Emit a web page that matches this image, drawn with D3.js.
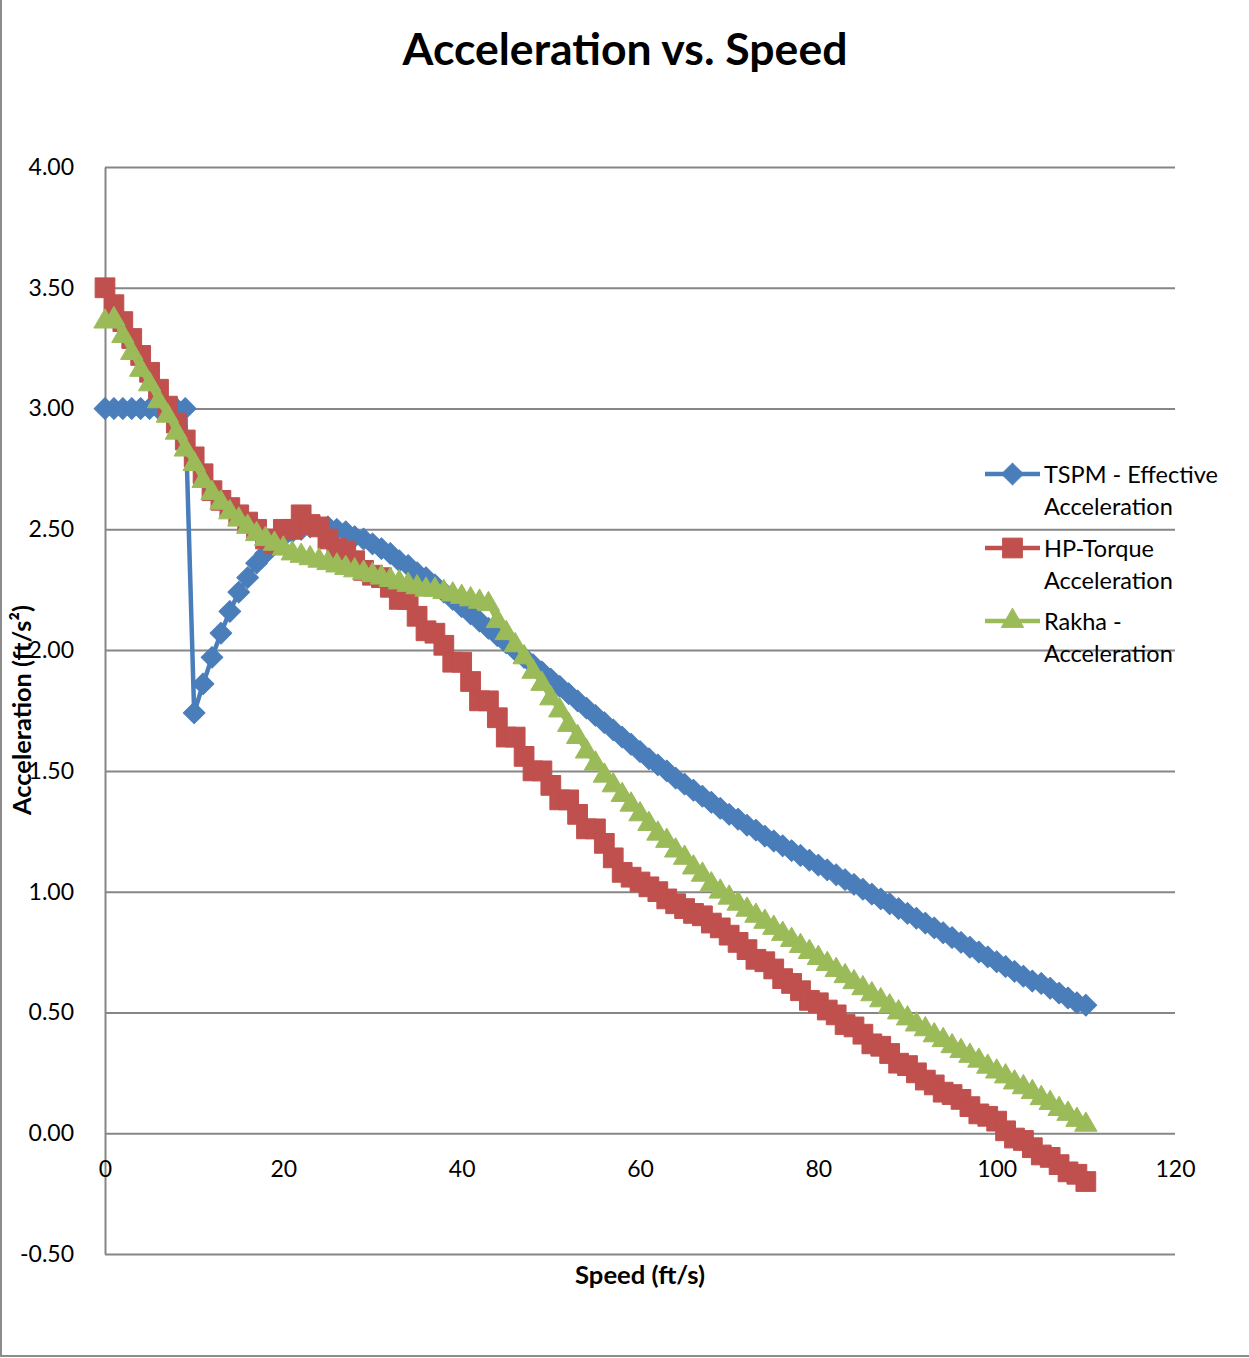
<!DOCTYPE html>
<html>
<head>
<meta charset="utf-8">
<script src="https://cdn.jsdelivr.net/npm/d3@7"></script>
<style>
  body { margin: 0; background: white; }
</style>
</head>
<body>
<div id="container"></div>
<script>
let w = 1249;
let h = 1358;

// speed (ft/s)
let speed = [
  0, 1, 2, 3, 4, 5, 6, 7, 8, 9,
  10, 11, 12, 13, 14, 15, 16, 17, 18, 19,
  20, 21, 22, 23, 24, 25, 26, 27, 28, 29,
  30, 31, 32, 33, 34, 35, 36, 37, 38, 39,
  40, 41, 42, 43, 44, 45, 46, 47, 48, 49,
  50, 51, 52, 53, 54, 55, 56, 57, 58, 59,
  60, 61, 62, 63, 64, 65, 66, 67, 68, 69,
  70, 71, 72, 73, 74, 75, 76, 77, 78, 79,
  80, 81, 82, 83, 84, 85, 86, 87, 88, 89,
  90, 91, 92, 93, 94, 95, 96, 97, 98, 99,
  100, 101, 102, 103, 104, 105, 106, 107, 108, 109, 110
];

let tspm = [
  3.00, 3.00, 3.00, 3.00, 3.00, 3.00, 3.00, 3.00, 3.00, 3.00,
  1.74, 1.86, 1.97, 2.07, 2.16, 2.24, 2.30, 2.36, 2.40, 2.44,
  2.47, 2.49, 2.50, 2.51, 2.51, 2.51, 2.50, 2.49, 2.47, 2.46,
  2.44, 2.42, 2.40, 2.37, 2.35, 2.32, 2.30, 2.27, 2.24, 2.21,
  2.18, 2.15, 2.12, 2.09, 2.06, 2.03, 2.00, 1.97, 1.94, 1.91,
  1.88, 1.85, 1.82, 1.79, 1.76, 1.73, 1.70, 1.67, 1.64, 1.61,
  1.58, 1.55, 1.525, 1.50, 1.47, 1.445, 1.42, 1.395, 1.37, 1.345,
  1.32, 1.30, 1.275, 1.255, 1.23, 1.21, 1.19, 1.17, 1.15, 1.13,
  1.11, 1.09, 1.07, 1.05, 1.03, 1.01, 0.99, 0.97, 0.95, 0.93,
  0.91, 0.89, 0.87, 0.85, 0.83, 0.81, 0.79, 0.77, 0.75, 0.73,
  0.71, 0.69, 0.67, 0.65, 0.63, 0.62, 0.60, 0.58, 0.56, 0.54, 0.53
];

let hpTorque = [
  3.50, 3.43, 3.36, 3.29, 3.22, 3.15, 3.08, 3.01, 2.94, 2.87,
  2.80, 2.73, 2.66, 2.62, 2.59, 2.56, 2.53, 2.50, 2.46, 2.44,
  2.50, 2.50, 2.56, 2.52, 2.51, 2.46, 2.42, 2.41, 2.37, 2.33,
  2.31, 2.30, 2.26, 2.21, 2.21, 2.14, 2.08, 2.07, 2.02, 1.95,
  1.95, 1.87, 1.79, 1.79, 1.72, 1.64, 1.64, 1.56, 1.50, 1.50,
  1.44, 1.38, 1.38, 1.32, 1.26, 1.26, 1.20, 1.14, 1.08, 1.06,
  1.04, 1.02, 1.00, 0.97, 0.95, 0.93, 0.91, 0.90, 0.87, 0.85,
  0.82, 0.79, 0.76, 0.72, 0.71, 0.68, 0.64, 0.62, 0.59, 0.55,
  0.54, 0.51, 0.49, 0.45, 0.44, 0.41, 0.37, 0.36, 0.33, 0.29,
  0.28, 0.25, 0.22, 0.20, 0.17, 0.16, 0.14, 0.11, 0.08, 0.07,
  0.05, 0.01, -0.02, -0.03, -0.06, -0.09, -0.10, -0.13, -0.16, -0.17, -0.20
];

let rakha = [
  3.36, 3.37, 3.30, 3.23, 3.16, 3.10, 3.03, 2.97, 2.90, 2.83,
  2.77, 2.70, 2.65, 2.61, 2.57, 2.54, 2.51, 2.48, 2.46, 2.44,
  2.42, 2.40, 2.39, 2.38, 2.37, 2.36, 2.35, 2.34, 2.33, 2.32,
  2.31, 2.30, 2.29, 2.28, 2.27, 2.26, 2.25, 2.25, 2.24, 2.23,
  2.22, 2.21, 2.20, 2.19, 2.12, 2.07, 2.02, 1.97, 1.91, 1.86,
  1.80, 1.75, 1.69, 1.64, 1.58, 1.53, 1.48, 1.44, 1.40, 1.36,
  1.32, 1.28, 1.24, 1.21, 1.17, 1.14, 1.10, 1.07, 1.03, 1.00,
  0.975, 0.95, 0.925, 0.90, 0.875, 0.85, 0.825, 0.80, 0.775, 0.75,
  0.725, 0.70, 0.675, 0.65, 0.625, 0.60, 0.575, 0.55, 0.525, 0.50,
  0.475, 0.45, 0.43, 0.405, 0.385, 0.36, 0.34, 0.32, 0.30, 0.275,
  0.255, 0.235, 0.21, 0.19, 0.17, 0.145, 0.125, 0.10, 0.08, 0.055, 0.035
];

let seriesNames = [
  ["TSPM - Effective", "Acceleration"],
  ["HP-Torque", "Acceleration"],
  ["Rakha -", "Acceleration"]
];
let seriesColors = ["#4a7ebb", "#c0504d", "#9bbb59"];

let xTicks = [0, 20, 40, 60, 80, 100, 120];
let yTicks = [-0.5, 0, 0.5, 1, 1.5, 2, 2.5, 3, 3.5, 4];

let font = "Lato, 'Open Sans', sans-serif";
let gridColor = "#868686";

let viz = d3.select("#container")
  .append("svg")
    .attr("width", w)
    .attr("height", h)
    .style("background-color", "white")
;

// chart border (only left and bottom edge are visible in the shot)
viz.append("rect")
    .attr("x", 1)
    .attr("y", -5)
    .attr("width", w + 20)
    .attr("height", 1361)
    .attr("fill", "none")
    .style("stroke", "#8c8c8c")
    .style("stroke-width", 2)
;

let x = d3.scaleLinear().domain([0, 120]).range([105, 1175]);
let y = d3.scaleLinear().domain([-0.5, 4]).range([1254, 167]);

// y axis + horizontal gridlines
let yAxis = viz.append("g")
    .attr("transform", "translate(" + x(0) + ",0)")
    .call(d3.axisLeft(y)
      .tickValues(yTicks)
      .tickSize(-(x(120) - x(0)))
      .tickSizeOuter(0)
      .tickPadding(31)
      .tickFormat(d => d.toFixed(2)))
;
yAxis.selectAll("line, path")
    .style("stroke", gridColor)
    .style("stroke-width", 2)
;
yAxis.selectAll("text")
    .attr("fill", "black")
    .style("font-size", "23px")
    .style("font-family", font)
;

// x axis labels, crossing at 0
let xAxis = viz.append("g")
    .attr("transform", "translate(0," + y(0) + ")")
    .call(d3.axisBottom(x)
      .tickValues(xTicks)
      .tickSize(0)
      .tickPadding(27)
      .tickFormat(d3.format("d")))
;
xAxis.select(".domain").remove();
xAxis.selectAll("text")
    .attr("fill", "black")
    .style("font-size", "23px")
    .style("font-family", font)
;

function fitWidth(sel, target){
  let w0 = sel.node().getComputedTextLength();
  let fs = parseFloat(sel.style("font-size"));
  sel.style("font-size", (fs * target / w0) + "px");
}

let title = viz.append("text")
    .text("Acceleration vs. Speed")
    .attr("x", 625)
    .attr("y", 65)
    .attr("text-anchor", "middle")
    .attr("fill", "black")
    .style("font-size", "40px")
    .style("font-weight", "bold")
    .style("font-family", font)
;
fitWidth(title, 445);

let xTitle = viz.append("text")
    .text("Speed (ft/s)")
    .attr("x", 640)
    .attr("y", 1284)
    .attr("text-anchor", "middle")
    .attr("fill", "black")
    .style("font-size", "22px")
    .style("font-weight", "bold")
    .style("font-family", font)
;
fitWidth(xTitle, 130);

let yTitle = viz.append("text")
    .text("Acceleration (ft/s²)")
    .attr("transform", "translate(31,710) rotate(-90)")
    .attr("text-anchor", "middle")
    .attr("fill", "black")
    .style("font-size", "22px")
    .style("font-weight", "bold")
    .style("font-family", font)
;
fitWidth(yTitle, 210);

// build series from the arrays
let seriesValues = [tspm, hpTorque, rakha];
let series = seriesValues.map(function(vals, i){
  return {
    name: seriesNames[i],
    color: seriesColors[i],
    points: speed.map((s, j) => ({ s: s, v: vals[j] }))
  };
});

let markerPath = [
  d3.symbol().type(d3.symbolSquare).size(235)(),
  d3.symbol().type(d3.symbolSquare).size(390)(),
  d3.symbol().type(d3.symbolTriangle).size(215)()
];
let markerRotate = [45, 0, 0];

let line = d3.line()
    .x(d => x(d.s))
    .y(d => y(d.v))
;

series.forEach(function(sr, i){
  let g = viz.append("g").attr("class", "series" + i);

  g.append("path")
      .datum(sr.points)
      .attr("d", line)
      .attr("fill", "none")
      .style("stroke", sr.color)
      .style("stroke-width", 4.5)
      .style("stroke-linejoin", "round")
  ;

  g.selectAll(".marker")
    .data(sr.points)
    .join("path")
      .attr("class", "marker")
      .attr("d", markerPath[i])
      .attr("transform", d => "translate(" + x(d.s) + "," + y(d.v) + ") rotate(" + markerRotate[i] + ")")
      .attr("fill", sr.color)
      .style("stroke", sr.color)
      .style("stroke-width", 1)
      .style("stroke-linejoin", "round")
  ;
});

// legend
let legendY = [474, 548, 621];
series.forEach(function(sr, i){
  let lg = viz.append("g")
      .attr("transform", "translate(985," + legendY[i] + ")");

  lg.append("line")
      .attr("x1", 0)
      .attr("x2", 55)
      .attr("y1", 0)
      .attr("y2", 0)
      .style("stroke", sr.color)
      .style("stroke-width", 4.5)
  ;
  lg.append("path")
      .attr("d", markerPath[i])
      .attr("transform", "translate(27.5,0) rotate(" + markerRotate[i] + ")")
      .attr("fill", sr.color)
      .style("stroke", sr.color)
      .style("stroke-width", 1)
  ;
  sr.name.forEach(function(t, k){
    lg.append("text")
        .text(t)
        .attr("x", 59)
        .attr("y", 9 + k * 32)
        .attr("fill", "black")
        .style("font-size", "23.5px")
        .style("font-family", font)
    ;
  });
});
</script>
</body>
</html>
